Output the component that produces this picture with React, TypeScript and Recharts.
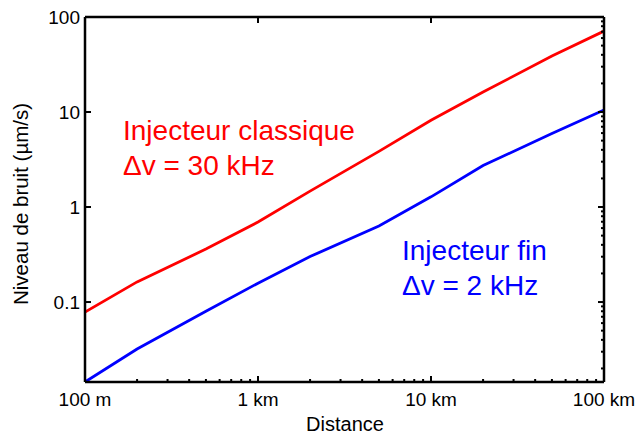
import React from 'react'
import { LineChart, Line, XAxis, YAxis } from 'recharts'

// distance en km
const distances = [0.1, 0.2, 0.5, 1, 2, 5, 10, 20, 50, 100]
// niveau de bruit en µm/s
const classique = [0.0785, 0.163, 0.361, 0.695, 1.47, 3.85, 8.2, 16.2, 38.9, 71]
const fin = [0.0144, 0.032, 0.08, 0.158, 0.301, 0.63, 1.28, 2.73, 5.94, 10.5]

const xMajor = [0.1, 1, 10, 100]
const xLabels = ['100 m', '1 km', '10 km', '100 km']
const xMinor = [0.2, 0.3, 0.4, 0.5, 0.6, 0.7, 0.8, 0.9, 2, 3, 4, 5, 6, 7, 8, 9, 20, 30, 40, 50, 60, 70, 80, 90]
const yMajor = [0.1, 1, 10, 100]
const yLabels = ['0.1', '1', '10', '100']
const yMinor = [0.02, 0.03, 0.04, 0.05, 0.06, 0.07, 0.08, 0.09, 0.2, 0.3, 0.4, 0.5, 0.6, 0.7, 0.8, 0.9, 2, 3, 4, 5, 6, 7, 8, 9, 20, 30, 40, 50, 60, 70, 80, 90]

const data = distances.map((d, i) => ({ d, classique: classique[i], fin: fin[i] }))

const FONT = '"Liberation Sans", Arial, sans-serif'
const RED = '#ff0000'
const BLUE = '#0000ff'
const axisLine = { stroke: '#000', strokeWidth: 2.5 }

const BottomTick = (props: any) => {
  const { x, y, payload } = props
  const i = xMajor.indexOf(payload.value)
  const major = i >= 0
  return (
    <g>
      <line x1={x} x2={x} y1={y} y2={y - (major ? 6 : 3)} stroke="#000" strokeWidth={2} />
      {major && (
        <text x={x} y={y + 24} textAnchor="middle" fontSize={19} fontFamily={FONT} fill="#000">
          {xLabels[i]}
        </text>
      )}
    </g>
  )
}

const TopTick = (props: any) => {
  const { x, y } = props
  return <line x1={x} x2={x} y1={y} y2={y + 6} stroke="#000" strokeWidth={2} />
}

const LeftTick = (props: any) => {
  const { x, y, payload } = props
  const i = yMajor.indexOf(payload.value)
  return (
    <g>
      <line x1={x} x2={x + 6} y1={y} y2={y} stroke="#000" strokeWidth={2} />
      <text x={x - 5} y={y} dy={7} textAnchor="end" fontSize={19} fontFamily={FONT} fill="#000">
        {yLabels[i]}
      </text>
    </g>
  )
}

const RightTick = (props: any) => {
  const { x, y, payload } = props
  const major = yMajor.indexOf(payload.value) >= 0
  return <line x1={x} x2={x - (major ? 6 : 3)} y1={y} y2={y} stroke="#000" strokeWidth={2} />
}

export default function App() {
  return (
    <div style={{ position: 'absolute', left: 0, top: 0, width: 637, height: 437, background: '#fff' }}>
      <LineChart width={637} height={437} data={data} margin={{ top: 16, right: 32, bottom: 0, left: 0 }}>
        <XAxis
          xAxisId="b" dataKey="d" type="number" scale="log" domain={[0.1, 100]} allowDataOverflow
          ticks={[...xMajor, ...xMinor]} tick={<BottomTick />} tickLine={false} tickSize={0} tickMargin={0}
          axisLine={axisLine} height={55} interval={0}
        />
        <XAxis
          xAxisId="t" orientation="top" dataKey="d" type="number" scale="log" domain={[0.1, 100]} allowDataOverflow
          ticks={xMajor} tick={<TopTick />} tickLine={false} tickSize={0} tickMargin={0}
          axisLine={axisLine} height={1} interval={0}
        />
        <YAxis
          yAxisId="l" type="number" scale="log" domain={[0.0144, 100]} allowDataOverflow
          ticks={yMajor} tick={<LeftTick />} tickLine={false} tickSize={0} tickMargin={0}
          axisLine={axisLine} width={85} interval={0}
        />
        <YAxis
          yAxisId="r" orientation="right" type="number" scale="log" domain={[0.0144, 100]} allowDataOverflow
          ticks={[...yMajor, ...yMinor]} tick={<RightTick />} tickLine={false} tickSize={0} tickMargin={0}
          axisLine={axisLine} width={1} interval={0}
        />
        <Line xAxisId="b" yAxisId="l" dataKey="classique" stroke={RED} strokeWidth={2.8} dot={false} isAnimationActive={false} />
        <Line xAxisId="b" yAxisId="l" dataKey="fin" stroke={BLUE} strokeWidth={2.8} dot={false} isAnimationActive={false} />
      </LineChart>
      <svg width={637} height={437} style={{ position: 'absolute', left: 0, top: 0, pointerEvents: 'none' }}>
        <text x={345} y={431} textAnchor="middle" fontSize={20} fontFamily={FONT} fill="#000">Distance</text>
        <text
          x={28} y={204} textAnchor="middle" fontSize={20.5} fontFamily={FONT} fill="#000"
          transform="rotate(-90 28 204)"
        >
          Niveau de bruit (µm/s)
        </text>
        <text x={123} y={140} fontSize={28} fontFamily={FONT} fill={RED}>Injecteur classique</text>
        <text x={123} y={175} fontSize={28} fontFamily={FONT} fill={RED}>Δv = 30 kHz</text>
        <text x={402} y={260} fontSize={28} fontFamily={FONT} fill={BLUE}>Injecteur fin</text>
        <text x={402} y={295} fontSize={28} fontFamily={FONT} fill={BLUE}>Δv = 2 kHz</text>
      </svg>
    </div>
  )
}
